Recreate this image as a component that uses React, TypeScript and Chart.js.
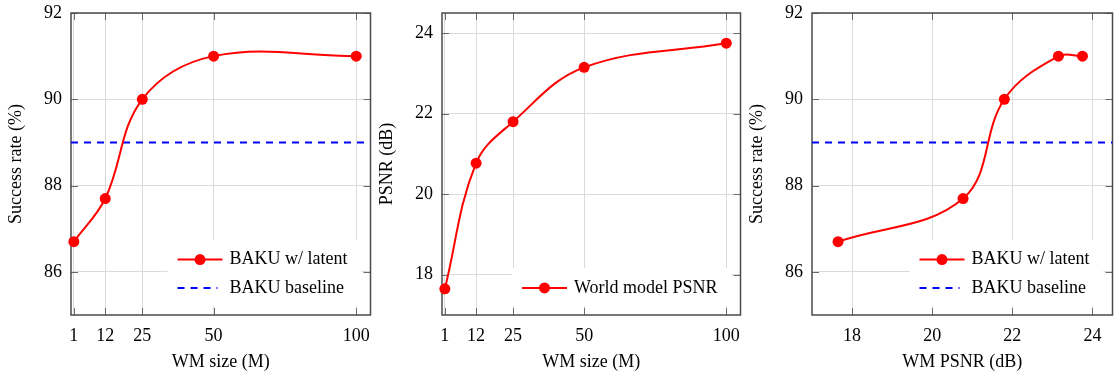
import React, { useEffect, useRef } from "react";
import { Chart, registerables } from "chart.js";

Chart.register(...registerables);

// ---------- data ----------
const wmSizes = [1, 12, 25, 50, 100];
const successRates = [86.7, 87.7, 90, 91, 91];
const wmPsnr = [17.65, 20.77, 21.8, 23.15, 23.75];
const baselineRate = 89;

const sizeTicks = [1, 12, 25, 50, 100];
const rateTicks = [86, 88, 90, 92];
const psnrTicks = [18, 20, 22, 24];

const sizeRange = [0, 105];
const rateRange = [85, 92];
const psnrRange = [17, 24.5];

const FONT_FAMILY = '"Liberation Serif", "Times New Roman", serif';
const FONT_SIZE = 18;
const RED = "#ff0000";
const BLUE = "#0000ff";
const GRID = "#dadada";
const FRAME = "#4a4a4a";
const TICKMARK = "#6a6a6a";

type Series = {
  label: string;
  xs: number[];
  ys: number[];
  kind: "marker" | "dashed";
};

type Panel = {
  left: number;
  width: number;
  xLabel: string;
  yLabel: string;
  xTicks: number[];
  yTicks: number[];
  xRange: number[];
  yRange: number[];
  series: Series[];
};

const panels: Panel[] = [
  {
    left: 5,
    width: 371,
    xLabel: "WM size (M)",
    yLabel: "Success rate (%)",
    xTicks: sizeTicks,
    yTicks: rateTicks,
    xRange: sizeRange,
    yRange: rateRange,
    series: [
      { label: "BAKU w/ latent", xs: wmSizes, ys: successRates, kind: "marker" },
      { label: "BAKU baseline", xs: sizeRange, ys: [baselineRate, baselineRate], kind: "dashed" },
    ],
  },
  {
    left: 376,
    width: 370,
    xLabel: "WM size (M)",
    yLabel: "PSNR (dB)",
    xTicks: sizeTicks,
    yTicks: psnrTicks,
    xRange: sizeRange,
    yRange: psnrRange,
    series: [{ label: "World model PSNR", xs: wmSizes, ys: wmPsnr, kind: "marker" }],
  },
  {
    left: 746,
    width: 372,
    xLabel: "WM PSNR (dB)",
    yLabel: "Success rate (%)",
    xTicks: psnrTicks,
    yTicks: rateTicks,
    xRange: psnrRange,
    yRange: rateRange,
    series: [
      { label: "BAKU w/ latent", xs: wmPsnr, ys: successRates, kind: "marker" },
      { label: "BAKU baseline", xs: psnrRange, ys: [baselineRate, baselineRate], kind: "dashed" },
    ],
  },
];

const framePlugin = {
  id: "frameTicks",
  beforeDatasetsDraw(chart: any) {
    const { ctx, chartArea: ca, scales } = chart;
    const tl = 7;
    ctx.save();
    ctx.strokeStyle = TICKMARK;
    ctx.lineWidth = 1;
    ctx.beginPath();
    for (const t of scales.x.ticks) {
      const px = Math.round(scales.x.getPixelForValue(t.value)) + 0.5;
      ctx.moveTo(px, ca.bottom);
      ctx.lineTo(px, ca.bottom - tl);
      ctx.moveTo(px, ca.top);
      ctx.lineTo(px, ca.top + tl);
    }
    for (const t of scales.y.ticks) {
      const py = Math.round(scales.y.getPixelForValue(t.value)) + 0.5;
      ctx.moveTo(ca.left, py);
      ctx.lineTo(ca.left + tl, py);
      ctx.moveTo(ca.right, py);
      ctx.lineTo(ca.right - tl, py);
    }
    ctx.stroke();
    ctx.strokeStyle = FRAME;
    ctx.lineWidth = 1.5;
    ctx.strokeRect(ca.left, ca.top, ca.right - ca.left, ca.bottom - ca.top);
    ctx.restore();
  },
};

function makeLegendPlugin(series: Series[]) {
  return {
    id: "insideLegend",
    afterDatasetsDraw(chart: any) {
      const { ctx, chartArea: ca } = chart;
      ctx.save();
      ctx.font = `${FONT_SIZE}px ${FONT_FAMILY}`;
      const maxW = Math.max(...series.map((s) => ctx.measureText(s.label).width));
      const rowH = 28.4;
      const boxW = 10 + 45 + 7 + maxW + 14;
      const boxH = series.length * rowH + 9.6;
      const right = ca.right - 0.03 * (ca.right - ca.left);
      const bottom = ca.bottom - 0.03 * (ca.bottom - ca.top);
      const left = right - boxW;
      const top = bottom - boxH;
      ctx.fillStyle = "#ffffff";
      ctx.fillRect(left, top, boxW, boxH);
      series.forEach((s, i) => {
        const cy = top + 5.8 + rowH * (i + 0.5);
        const x0 = left + 10;
        ctx.lineWidth = 2;
        if (s.kind === "marker") {
          ctx.strokeStyle = RED;
          ctx.setLineDash([]);
          ctx.beginPath();
          ctx.moveTo(x0, cy);
          ctx.lineTo(x0 + 45, cy);
          ctx.stroke();
          ctx.fillStyle = RED;
          ctx.beginPath();
          ctx.arc(x0 + 22.5, cy, 5.5, 0, Math.PI * 2);
          ctx.fill();
        } else {
          ctx.strokeStyle = BLUE;
          ctx.setLineDash([7, 6]);
          ctx.beginPath();
          ctx.moveTo(x0, cy);
          ctx.lineTo(x0 + 40, cy);
          ctx.stroke();
          ctx.setLineDash([]);
        }
        ctx.fillStyle = "#000000";
        ctx.textAlign = "left";
        ctx.textBaseline = "middle";
        ctx.fillText(s.label, x0 + 52, cy);
      });
      ctx.restore();
    },
  };
}

function PanelChart({ p }: { p: Panel }) {
  const ref = useRef<HTMLCanvasElement | null>(null);
  useEffect(() => {
    if (!ref.current) return;
    const font = { family: FONT_FAMILY, size: FONT_SIZE };
    const datasets: any[] = p.series.map((s) => {
      const data = s.xs.map((x, k) => ({ x, y: s.ys[k] }));
      if (s.kind === "marker") {
        return {
          label: s.label,
          data,
          borderColor: RED,
          backgroundColor: RED,
          borderWidth: 2,
          pointRadius: 5.5,
          pointBorderWidth: 0,
          pointBackgroundColor: RED,
          tension: 0.38,
          clip: false,
          order: 0,
        };
      }
      return {
        label: s.label,
        data,
        borderColor: BLUE,
        borderWidth: 2,
        borderDash: [7, 6],
        pointRadius: 0,
        tension: 0,
        order: 1,
      };
    });
    const chart = new Chart(ref.current, {
      type: "line",
      data: { datasets },
      options: {
        animation: false,
        responsive: false,
        layout: { padding: { left: 0, top: 13, right: 2, bottom: 0 } },
        plugins: { legend: { display: false }, tooltip: { enabled: false } },
        scales: {
          x: {
            type: "linear",
            min: p.xRange[0],
            max: p.xRange[1],
            afterBuildTicks: (s: any) => {
              s.ticks = p.xTicks.map((v) => ({ value: v }));
            },
            afterFit: (s: any) => {
              s.height = 58;
              s.paddingLeft = 0;
              s.paddingRight = 0;
            },
            grid: { color: GRID, lineWidth: 1, drawTicks: false },
            border: { display: false },
            ticks: { font, color: "#000", padding: 10, maxRotation: 0, autoSkip: false },
            title: { display: true, text: p.xLabel, font, color: "#000", padding: { top: 0, bottom: 0 } },
          },
          y: {
            type: "linear",
            min: p.yRange[0],
            max: p.yRange[1],
            afterBuildTicks: (s: any) => {
              s.ticks = p.yTicks.map((v) => ({ value: v }));
            },
            afterFit: (s: any) => {
              s.width = 66;
              s.paddingTop = 0;
              s.paddingBottom = 0;
            },
            grid: { color: GRID, lineWidth: 1, drawTicks: false },
            border: { display: false },
            ticks: { font, color: "#000", padding: 9, autoSkip: false },
            title: { display: true, text: p.yLabel, font, color: "#000", padding: { top: 0, bottom: 0 } },
          },
        },
      } as any,
      plugins: [framePlugin, makeLegendPlugin(p.series)],
    });
    return () => chart.destroy();
  }, [p]);
  return (
    <canvas
      ref={ref}
      width={p.width}
      height={373}
      style={{ position: "absolute", left: p.left, top: 0, width: p.width, height: 373 }}
    />
  );
}

export default function App() {
  return (
    <div
      style={{
        position: "fixed",
        left: 0,
        top: 0,
        width: 1114,
        height: 373,
        overflow: "hidden",
        background: "#ffffff",
      }}
    >
      {panels.map((p, i) => (
        <PanelChart key={i} p={p} />
      ))}
    </div>
  );
}
